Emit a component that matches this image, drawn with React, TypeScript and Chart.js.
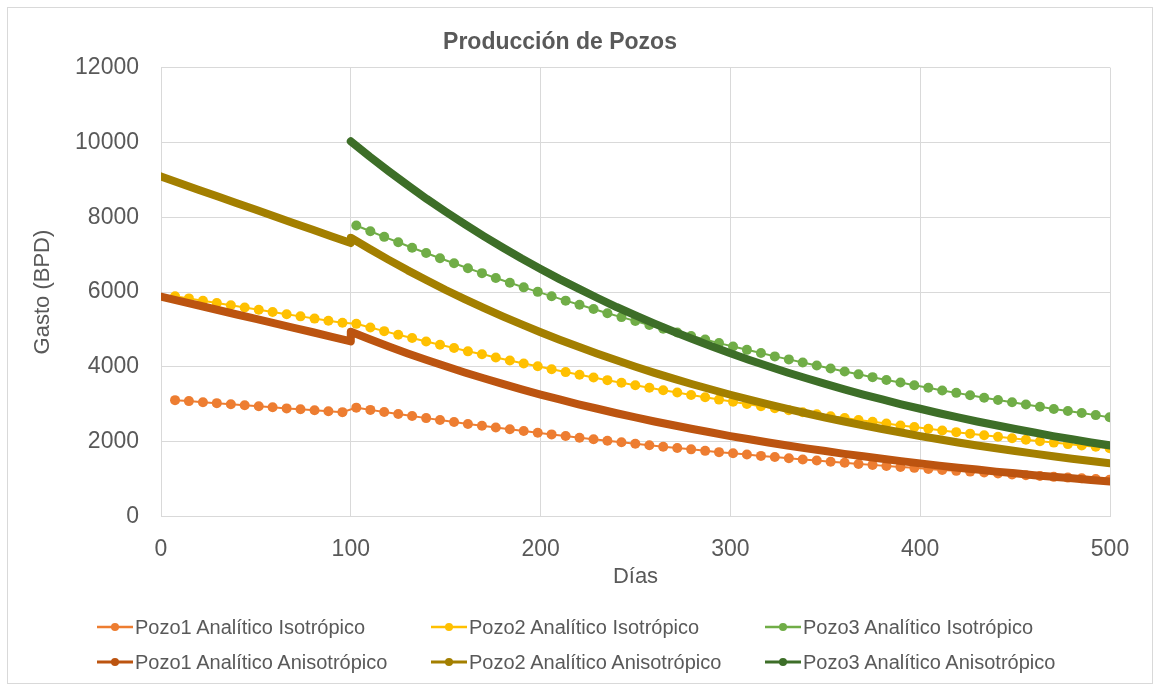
import React, { useEffect, useRef } from "react";
import { Chart, registerables } from "chart.js";

Chart.register(...registerables);

// Sampling days of the analytic (isotropic) solutions
const isoDays = [
  7.4, 14.7, 22.1, 29.4, 36.8, 44.1, 51.5, 58.8, 66.2, 73.5, 80.9, 88.2, 95.6,
  102.9, 110.3, 117.6, 125.0, 132.3, 139.7, 147.0, 154.4, 161.7, 169.1, 176.4,
  183.8, 191.1, 198.5, 205.8, 213.2, 220.5, 227.9, 235.2, 242.6, 249.9, 257.3,
  264.6, 272.0, 279.3, 286.7, 294.0, 301.4, 308.7, 316.1, 323.4, 330.8, 338.1,
  345.5, 352.8, 360.2, 367.5, 374.9, 382.2, 389.6, 396.9, 404.3, 411.6, 419.0,
  426.3, 433.7, 441.0, 448.4, 455.7, 463.1, 470.4, 477.8, 485.1, 492.5, 499.8,
];

// Sampling days of the anisotropic solutions (before / after day 100)
const anisoDaysEarly = [0, 10, 20, 30, 40, 50, 60, 70, 80, 90, 100];
const anisoDaysLate = [
  100, 110, 120, 130, 140, 150, 160, 170, 180, 190, 200, 210, 220, 230, 240,
  250, 260, 270, 280, 290, 300, 310, 320, 330, 340, 350, 360, 370, 380, 390,
  400, 410, 420, 430, 440, 450, 460, 470, 480, 490, 500,
];

// Production rates (BPD)
const pozo1IsoEarly = [3110, 3085, 3055, 3030, 3000, 2975, 2945, 2920, 2890, 2865, 2840, 2815, 2790];
const pozo1IsoLate = [
  2910, 2850, 2795, 2740, 2685, 2630, 2580, 2525, 2475, 2425,
  2380, 2330, 2285, 2240, 2195, 2150, 2105, 2065, 2025, 1985,
  1945, 1905, 1865, 1830, 1795, 1755, 1720, 1690, 1655, 1620,
  1590, 1555, 1525, 1495, 1465, 1435, 1405, 1380, 1350, 1325,
  1300, 1270, 1245, 1220, 1200, 1175, 1150, 1125, 1105, 1085,
  1060, 1040, 1020, 1000, 980,
];

const pozo2IsoEarly = [5890, 5830, 5765, 5705, 5645, 5585, 5525, 5465, 5405, 5350, 5290, 5235, 5180];
const pozo2IsoLate = [
  5150, 5050, 4955, 4860, 4770, 4680, 4590, 4505, 4415, 4335,
  4250, 4170, 4090, 4015, 3935, 3860, 3790, 3715, 3645, 3575,
  3510, 3440, 3375, 3315, 3250, 3190, 3125, 3070, 3010, 2950,
  2895, 2840, 2785, 2735, 2680, 2630, 2580, 2530, 2485, 2435,
  2390, 2345, 2300, 2255, 2215, 2170, 2130, 2090, 2050, 2010,
  1975, 1935, 1900, 1865, 1825,
];

const pozo3IsoLate = [
  7780, 7625, 7475, 7330, 7185, 7045, 6905, 6770, 6635, 6505,
  6375, 6250, 6125, 6005, 5890, 5770, 5660, 5545, 5435, 5330,
  5225, 5120, 5020, 4920, 4825, 4730, 4635, 4545, 4455, 4370,
  4280, 4200, 4115, 4035, 3955, 3875, 3800, 3725, 3650, 3580,
  3510, 3440, 3370, 3305, 3240, 3175, 3115, 3055, 2995, 2935,
  2875, 2820, 2765, 2710, 2655,
];

const pozo1AnisoEarly = [5880, 5760, 5640, 5520, 5400, 5285, 5165, 5045, 4925, 4800, 4680];
const pozo1AnisoLate = [
  4940, 4740, 4545, 4360, 4185, 4015, 3850, 3695, 3545, 3400,
  3260, 3130, 3000, 2880, 2760, 2650, 2540, 2440, 2340, 2245,
  2150, 2065, 1980, 1900, 1820, 1750, 1675, 1610, 1545, 1480,
  1420, 1360, 1305, 1255, 1200, 1155, 1105, 1060, 1020, 975, 935,
];

const pozo2AnisoEarly = [9090, 8910, 8730, 8555, 8375, 8200, 8020, 7840, 7665, 7485, 7310];
const pozo2AnisoLate = [
  7450, 7150, 6860, 6580, 6315, 6055, 5810, 5575, 5350, 5135,
  4925, 4725, 4535, 4350, 4175, 4005, 3840, 3685, 3535, 3395,
  3255, 3125, 2995, 2875, 2760, 2645, 2540, 2435, 2340, 2245,
  2150, 2065, 1980, 1900, 1825, 1750, 1680, 1610, 1545, 1485, 1425,
];

const pozo3AnisoLate = [
  10030, 9620, 9230, 8855, 8490, 8145, 7815, 7495, 7190, 6895,
  6615, 6345, 6090, 5840, 5600, 5375, 5155, 4945, 4745, 4550,
  4365, 4185, 4015, 3850, 3695, 3545, 3400, 3260, 3130, 3000,
  2880, 2760, 2650, 2540, 2440, 2340, 2245, 2150, 2065, 1980, 1900,
];

const xTicks = [0, 100, 200, 300, 400, 500];
const yTicks = [0, 2000, 4000, 6000, 8000, 10000, 12000];

const FONT = "'Liberation Sans', Arial, sans-serif";
const TEXT = "#595959";
const GRID = "#d9d9d9";

type Pt = { x: number; y: number };
type Series = { label: string; color: string; aniso: boolean; points: Pt[] };

const zip = (xs: number[], ys: number[]): Pt[] => ys.map((y, i) => ({ x: xs[i], y }));

const series: Series[] = [
  { label: "Pozo1 Analítico Isotrópico", color: "#ED7D31", aniso: false, points: zip(isoDays, [...pozo1IsoEarly, ...pozo1IsoLate]) },
  { label: "Pozo2 Analítico Isotrópico", color: "#FFC000", aniso: false, points: zip(isoDays, [...pozo2IsoEarly, ...pozo2IsoLate]) },
  { label: "Pozo3 Analítico Isotrópico", color: "#70AD47", aniso: false, points: zip(isoDays.slice(pozo1IsoEarly.length), pozo3IsoLate) },
  {
    label: "Pozo1 Analítico Anisotrópico", color: "#BC5410", aniso: true,
    points: [...zip(anisoDaysEarly, pozo1AnisoEarly), ...zip(anisoDaysLate, pozo1AnisoLate)],
  },
  {
    label: "Pozo2 Analítico Anisotrópico", color: "#A37F00", aniso: true,
    points: [...zip(anisoDaysEarly, pozo2AnisoEarly), ...zip(anisoDaysLate, pozo2AnisoLate)],
  },
  { label: "Pozo3 Analítico Anisotrópico", color: "#3D6E28", aniso: true, points: zip(anisoDaysLate, pozo3AnisoLate) },
];

const legendCols = [97, 431, 765];
const legendRows = [627, 662];

function LegendMark({ color, aniso }: { color: string; aniso: boolean }) {
  return (
    <svg width={36} height={12} style={{ display: "block", flex: "none" }}>
      <line x1={0} y1={6} x2={36} y2={6} stroke={color} strokeWidth={aniso ? 3 : 2.5} />
      <circle cx={18} cy={6} r={4} fill={color} />
    </svg>
  );
}

export default function App() {
  const canvasRef = useRef<HTMLCanvasElement | null>(null);

  useEffect(() => {
    const canvas = canvasRef.current;
    if (!canvas) return;

    const datasets = series.map((s) =>
      s.aniso
        ? {
            label: s.label,
            data: s.points,
            borderColor: s.color,
            backgroundColor: s.color,
            borderWidth: 8,
            borderCapStyle: "round" as const,
            borderJoinStyle: "round" as const,
            pointRadius: 0,
            tension: 0,
            order: 1,
          }
        : {
            label: s.label,
            data: s.points,
            borderColor: s.color,
            backgroundColor: s.color,
            borderWidth: 2,
            pointRadius: 5,
            pointBackgroundColor: s.color,
            pointBorderColor: s.color,
            pointBorderWidth: 0,
            tension: 0,
            order: 2,
          }
    );

    const chart = new Chart(canvas, {
      type: "line",
      data: { datasets: datasets as any },
      options: {
        responsive: false,
        animation: false,
        events: [],
        layout: { padding: { top: 0, left: 10, right: 49, bottom: 100 } },
        plugins: {
          legend: { display: false },
          tooltip: { enabled: false },
          title: {
            display: true,
            text: "Producción de Pozos",
            color: TEXT,
            font: { family: FONT, size: 23, weight: "bold" },
            padding: { top: 29, bottom: 11 },
          },
        },
        scales: {
          x: {
            type: "linear",
            min: xTicks[0],
            max: xTicks[xTicks.length - 1],
            afterBuildTicks: (scale: any) => {
              scale.ticks = xTicks.map((v) => ({ value: v }));
            },
            afterFit: (scale: any) => {
              scale.height = 73.5;
            },
            ticks: {
              color: TEXT,
              font: { family: FONT, size: 23 },
              padding: 19,
              maxRotation: 0,
              callback: (v: any) => String(v),
            },
            grid: { color: GRID, lineWidth: 1, drawTicks: false },
            border: { color: GRID, width: 1 },
            title: {
              display: true,
              text: "Días",
              color: TEXT,
              font: { family: FONT, size: 22 },
              padding: { top: 0, bottom: 0 },
            },
          },
          y: {
            type: "linear",
            min: yTicks[0],
            max: yTicks[yTicks.length - 1],
            afterBuildTicks: (scale: any) => {
              scale.ticks = yTicks.map((v) => ({ value: v }));
            },
            afterFit: (scale: any) => {
              scale.width = 151;
            },
            ticks: {
              color: TEXT,
              font: { family: FONT, size: 23 },
              padding: 22,
              callback: (v: any) => String(v),
            },
            grid: { color: GRID, lineWidth: 1, drawTicks: false },
            border: { color: GRID, width: 1 },
            title: {
              display: true,
              text: "Gasto (BPD)",
              color: TEXT,
              font: { family: FONT, size: 22 },
              padding: { top: 20, bottom: 0 },
            },
          },
        },
      } as any,
    });

    return () => chart.destroy();
  }, []);

  return (
    <div
      style={{
        position: "absolute",
        left: 0,
        top: 0,
        width: 1159,
        height: 690,
        background: "#ffffff",
        overflow: "hidden",
      }}
    >
      <canvas
        ref={canvasRef}
        width={1159}
        height={690}
        style={{ position: "absolute", left: 0, top: 0, width: 1159, height: 690 }}
      />
      <div
        style={{
          position: "absolute",
          left: 7,
          top: 7,
          width: 1144,
          height: 675,
          border: "1px solid #d9d9d9",
          pointerEvents: "none",
        }}
      />
      {series.map((s, i) => (
        <div
          key={s.label}
          style={{
            position: "absolute",
            left: legendCols[i % 3],
            top: legendRows[Math.floor(i / 3)] - 12,
            height: 24,
            display: "flex",
            alignItems: "center",
            whiteSpace: "nowrap",
            fontFamily: FONT,
            fontSize: 20,
            color: TEXT,
          }}
        >
          <LegendMark color={s.color} aniso={s.aniso} />
          <span style={{ marginLeft: 2 }}>{s.label}</span>
        </div>
      ))}
    </div>
  );
}
